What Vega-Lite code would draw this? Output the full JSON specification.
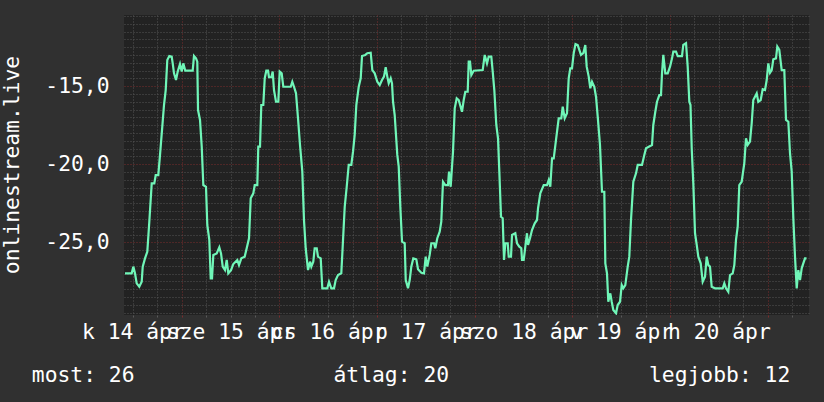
{
"$schema":"https://vega.github.io/schema/vega-lite/v6.json",
"width":685,"height":300,"autosize":"none",
"padding":{"left":124,"top":15,"right":15,"bottom":87},
"background":"#303030",
"view":{"fill":"#222222","stroke":null},
"config":{"font":"DejaVu Sans Mono"},
"resolve":{"axis":{"x":"independent"}},
"data":{"values":[
{"t":10.07,"v":-26.99},{"t":11.71,"v":-26.99},{"t":12.11,"v":-26.56},{"t":12.52,"v":-26.99},{"t":12.94,"v":-27.63},{"t":13.58,"v":-27.85},{"t":14.17,"v":-27.53},{"t":14.42,"v":-26.56},{"t":14.98,"v":-26.03},{"t":15.55,"v":-25.6},{"t":16.04,"v":-23.68},{"t":16.63,"v":-21.22},{"t":17.27,"v":-21.22},{"t":17.61,"v":-20.69},{"t":18.25,"v":-20.69},{"t":18.67,"v":-19.4},{"t":19.23,"v":-17.59},{"t":19.65,"v":-16.2},{"t":20.07,"v":-15.24},{"t":20.46,"v":-13.31},{"t":20.95,"v":-13.06},{"t":21.54,"v":-13.1},{"t":21.79,"v":-13.53},{"t":22.11,"v":-14.17},{"t":22.6,"v":-14.6},{"t":23.02,"v":-14.06},{"t":23.58,"v":-13.57},{"t":24.0,"v":-14.06},{"t":24.39,"v":-13.53},{"t":24.88,"v":-14.0},{"t":26.7,"v":-14.0},{"t":27.02,"v":-13.06},{"t":27.51,"v":-13.21},{"t":27.83,"v":-13.42},{"t":28.01,"v":-16.52},{"t":28.5,"v":-17.16},{"t":28.92,"v":-18.87},{"t":29.31,"v":-21.33},{"t":29.97,"v":-21.44},{"t":30.29,"v":-23.89},{"t":30.78,"v":-24.85},{"t":31.13,"v":-27.31},{"t":31.45,"v":-27.31},{"t":31.77,"v":-25.81},{"t":32.6,"v":-25.71},{"t":33.24,"v":-25.32},{"t":33.66,"v":-25.71},{"t":34.08,"v":-26.56},{"t":34.64,"v":-26.78},{"t":35.06,"v":-26.13},{"t":35.45,"v":-26.99},{"t":36.12,"v":-26.78},{"t":36.68,"v":-26.39},{"t":37.66,"v":-26.13},{"t":38.08,"v":-26.46},{"t":38.65,"v":-26.03},{"t":39.48,"v":-25.92},{"t":39.97,"v":-25.38},{"t":40.54,"v":-24.74},{"t":40.96,"v":-22.18},{"t":41.6,"v":-21.86},{"t":41.94,"v":-21.33},{"t":42.58,"v":-21.33},{"t":42.82,"v":-18.87},{"t":43.24,"v":-18.87},{"t":43.56,"v":-16.2},{"t":44.05,"v":-16.2},{"t":44.4,"v":-14.49},{"t":44.79,"v":-14.0},{"t":45.21,"v":-14.0},{"t":45.45,"v":-14.42},{"t":46.02,"v":-14.42},{"t":46.36,"v":-14.06},{"t":46.68,"v":-15.24},{"t":47.17,"v":-15.99},{"t":47.74,"v":-15.99},{"t":48.08,"v":-14.06},{"t":48.57,"v":-14.17},{"t":48.97,"v":-15.03},{"t":50.79,"v":-15.03},{"t":51.18,"v":-14.71},{"t":51.6,"v":-15.03},{"t":52.09,"v":-15.45},{"t":52.58,"v":-17.05},{"t":53.07,"v":-18.76},{"t":53.64,"v":-20.47},{"t":54.05,"v":-23.57},{"t":54.47,"v":-25.38},{"t":55.04,"v":-26.78},{"t":55.53,"v":-26.24},{"t":55.85,"v":-26.56},{"t":56.34,"v":-26.24},{"t":56.68,"v":-25.38},{"t":57.18,"v":-25.38},{"t":57.49,"v":-25.92},{"t":58.16,"v":-26.03},{"t":58.55,"v":-27.95},{"t":59.78,"v":-27.95},{"t":60.2,"v":-27.53},{"t":60.76,"v":-27.95},{"t":61.43,"v":-27.95},{"t":61.84,"v":-27.42},{"t":62.41,"v":-27.1},{"t":63.22,"v":-26.99},{"t":63.56,"v":-25.28},{"t":64.06,"v":-22.72},{"t":64.55,"v":-21.44},{"t":65.04,"v":-20.04},{"t":65.68,"v":-20.04},{"t":66.1,"v":-19.19},{"t":66.51,"v":-18.12},{"t":66.91,"v":-16.2},{"t":67.5,"v":-15.03},{"t":67.99,"v":-14.49},{"t":68.31,"v":-13.06},{"t":69.12,"v":-12.99},{"t":69.61,"v":-12.88},{"t":70.44,"v":-12.85},{"t":70.84,"v":-13.96},{"t":71.43,"v":-14.17},{"t":72.07,"v":-14.71},{"t":72.66,"v":-14.92},{"t":73.22,"v":-14.6},{"t":73.71,"v":-14.38},{"t":74.13,"v":-13.78},{"t":74.52,"v":-14.38},{"t":74.87,"v":-14.81},{"t":75.36,"v":-14.49},{"t":75.68,"v":-14.81},{"t":75.93,"v":-15.99},{"t":76.34,"v":-16.84},{"t":76.98,"v":-19.4},{"t":77.33,"v":-20.15},{"t":77.72,"v":-22.72},{"t":78.14,"v":-24.96},{"t":78.8,"v":-25.06},{"t":79.05,"v":-27.42},{"t":79.61,"v":-27.95},{"t":80.03,"v":-27.42},{"t":80.42,"v":-26.56},{"t":80.91,"v":-26.03},{"t":81.65,"v":-26.09},{"t":82.07,"v":-26.73},{"t":82.88,"v":-26.95},{"t":83.54,"v":-26.99},{"t":83.96,"v":-25.92},{"t":84.35,"v":-26.56},{"t":84.94,"v":-25.81},{"t":85.34,"v":-25.06},{"t":86.0,"v":-25.06},{"t":86.32,"v":-25.38},{"t":86.81,"v":-24.74},{"t":87.4,"v":-24.32},{"t":87.79,"v":-23.68},{"t":88.21,"v":-21.12},{"t":88.78,"v":-21.33},{"t":89.44,"v":-21.33},{"t":89.69,"v":-20.47},{"t":90.1,"v":-21.44},{"t":90.67,"v":-19.19},{"t":91.09,"v":-16.41},{"t":91.58,"v":-15.77},{"t":92.07,"v":-15.88},{"t":92.88,"v":-16.63},{"t":93.3,"v":-15.88},{"t":93.69,"v":-15.35},{"t":94.28,"v":-15.35},{"t":94.53,"v":-13.42},{"t":94.85,"v":-13.42},{"t":95.17,"v":-14.28},{"t":95.76,"v":-14.0},{"t":97.97,"v":-13.96},{"t":98.46,"v":-12.99},{"t":99.02,"v":-13.53},{"t":99.44,"v":-13.1},{"t":100.08,"v":-13.1},{"t":100.43,"v":-14.06},{"t":100.82,"v":-15.24},{"t":101.31,"v":-17.48},{"t":101.73,"v":-18.33},{"t":102.05,"v":-20.47},{"t":102.47,"v":-23.36},{"t":102.88,"v":-23.46},{"t":103.2,"v":-26.13},{"t":103.52,"v":-25.06},{"t":104.11,"v":-25.06},{"t":104.36,"v":-25.92},{"t":104.92,"v":-25.92},{"t":105.17,"v":-24.53},{"t":105.98,"v":-24.42},{"t":106.4,"v":-25.06},{"t":106.96,"v":-25.28},{"t":107.45,"v":-25.38},{"t":107.63,"v":-26.13},{"t":108.04,"v":-26.13},{"t":108.44,"v":-25.28},{"t":108.85,"v":-24.42},{"t":109.1,"v":-25.17},{"t":109.59,"v":-24.74},{"t":110.08,"v":-24.21},{"t":110.75,"v":-23.78},{"t":111.31,"v":-23.57},{"t":111.56,"v":-22.82},{"t":112.12,"v":-21.86},{"t":112.96,"v":-21.33},{"t":113.77,"v":-21.33},{"t":114.19,"v":-21.01},{"t":114.58,"v":-21.44},{"t":115.0,"v":-19.62},{"t":115.42,"v":-19.62},{"t":115.98,"v":-18.44},{"t":116.64,"v":-17.05},{"t":117.28,"v":-17.05},{"t":117.63,"v":-16.31},{"t":118.12,"v":-17.05},{"t":118.68,"v":-16.73},{"t":119.1,"v":-14.49},{"t":119.49,"v":-13.85},{"t":119.91,"v":-13.85},{"t":120.33,"v":-12.88},{"t":120.77,"v":-12.29},{"t":121.31,"v":-12.35},{"t":121.71,"v":-12.67},{"t":122.12,"v":-12.99},{"t":122.69,"v":-12.88},{"t":123.18,"v":-12.35},{"t":123.52,"v":-13.74},{"t":124.02,"v":-14.38},{"t":124.41,"v":-15.13},{"t":124.83,"v":-14.71},{"t":125.39,"v":-15.03},{"t":125.81,"v":-15.67},{"t":126.23,"v":-16.95},{"t":126.79,"v":-18.76},{"t":127.28,"v":-21.76},{"t":127.85,"v":-21.76},{"t":128.1,"v":-26.35},{"t":128.51,"v":-26.99},{"t":128.83,"v":-28.81},{"t":129.32,"v":-28.27},{"t":129.67,"v":-28.81},{"t":130.06,"v":-29.34},{"t":130.73,"v":-29.55},{"t":131.14,"v":-29.02},{"t":131.71,"v":-28.81},{"t":132.13,"v":-27.74},{"t":132.52,"v":-27.95},{"t":133.01,"v":-27.74},{"t":133.6,"v":-26.56},{"t":133.99,"v":-25.92},{"t":134.41,"v":-23.57},{"t":134.98,"v":-21.12},{"t":135.64,"v":-20.58},{"t":136.06,"v":-20.04},{"t":137.11,"v":-20.04},{"t":137.68,"v":-19.4},{"t":138.1,"v":-18.97},{"t":139.57,"v":-18.76},{"t":139.89,"v":-17.48},{"t":140.38,"v":-16.63},{"t":140.8,"v":-15.99},{"t":141.37,"v":-15.56},{"t":141.78,"v":-15.56},{"t":142.03,"v":-14.17},{"t":142.35,"v":-12.99},{"t":142.84,"v":-14.17},{"t":143.43,"v":-14.17},{"t":144.0,"v":-13.74},{"t":144.49,"v":-13.21},{"t":144.81,"v":-12.78},{"t":145.47,"v":-12.78},{"t":145.89,"v":-13.06},{"t":146.94,"v":-13.06},{"t":147.26,"v":-12.35},{"t":147.93,"v":-12.24},{"t":148.34,"v":-13.74},{"t":148.74,"v":-15.99},{"t":149.03,"v":-16.2},{"t":149.33,"v":-18.97},{"t":149.72,"v":-21.22},{"t":150.14,"v":-24.42},{"t":150.56,"v":-25.17},{"t":150.95,"v":-25.92},{"t":151.54,"v":-26.35},{"t":152.03,"v":-27.53},{"t":152.6,"v":-27.21},{"t":153.01,"v":-25.92},{"t":153.41,"v":-26.46},{"t":153.82,"v":-26.56},{"t":154.24,"v":-27.85},{"t":155.05,"v":-27.95},{"t":156.95,"v":-27.95},{"t":157.34,"v":-27.63},{"t":157.76,"v":-27.95},{"t":158.32,"v":-28.17},{"t":158.74,"v":-27.1},{"t":159.4,"v":-26.99},{"t":159.8,"v":-26.46},{"t":160.21,"v":-24.85},{"t":160.63,"v":-24.0},{"t":161.02,"v":-21.33},{"t":161.61,"v":-21.12},{"t":162.01,"v":-20.37},{"t":162.25,"v":-19.94},{"t":162.67,"v":-18.33},{"t":163.09,"v":-18.76},{"t":163.65,"v":-18.55},{"t":164.07,"v":-17.37},{"t":164.46,"v":-15.88},{"t":164.88,"v":-15.67},{"t":165.3,"v":-15.45},{"t":165.69,"v":-15.99},{"t":166.28,"v":-15.88},{"t":166.77,"v":-15.19},{"t":167.34,"v":-15.24},{"t":167.76,"v":-14.6},{"t":168.15,"v":-13.53},{"t":168.57,"v":-14.13},{"t":168.99,"v":-13.96},{"t":169.38,"v":-13.27},{"t":170.04,"v":-13.21},{"t":170.36,"v":-12.46},{"t":170.85,"v":-12.67},{"t":171.44,"v":-13.96},{"t":172.08,"v":-13.96},{"t":172.5,"v":-17.16},{"t":173.07,"v":-17.27},{"t":173.48,"v":-19.29},{"t":173.9,"v":-20.47},{"t":174.3,"v":-23.46},{"t":174.71,"v":-25.92},{"t":175.13,"v":-27.95},{"t":175.52,"v":-26.78},{"t":175.94,"v":-27.42},{"t":176.36,"v":-26.67},{"t":176.75,"v":-26.35},{"t":177.17,"v":-26.03},{"t":177.54,"v":-26.03}
]},
"encoding":{
  "y":{"field":"v","type":"quantitative","scale":{"domain":[-29.66,-10.43],"nice":false,"zero":false},
   "axis":{"values":[-29.5,-29,-28.5,-28,-27.5,-27,-26.5,-26,-25.5,-25,-24.5,-24,-23.5,-23,-22.5,-22,-21.5,-21,-20.5,-20,-19.5,-19,-18.5,-18,-17.5,-17,-16.5,-16,-15.5,-15,-14.5,-14,-13.5,-13,-12.5,-12,-11.5,-11,-10.5],
    "labelExpr":"datum.value % 5 === 0 ? datum.value + ',0' : ''",
    "labelOverlap":false,"labelFlush":false,"labelBound":false,"labelFont":"DejaVu Sans Mono","labelFontSize":21.33,"labelColor":"#ffffff","labelPadding":15,
    "domain":false,"ticks":false,"tickSize":0,
    "grid":true,"gridDash":[1,2],"gridWidth":1,
    "gridColor":{"condition":{"test":"datum.value % 5 === 0","value":"#7a2c2c"},"value":"#555555"},
    "title":"onlinestream.live","titleFont":"DejaVu Sans Mono","titleFontSize":21.33,"titleFontWeight":"normal","titleColor":"#ffffff","titleAngle":270,"titleX":-105.5,"titleY":149.5,"titleAlign":"center","titleBaseline":"alphabetic","titleLimit":1000}}
},
"layer":[
{"mark":{"type":"line","color":"#70f6b8","strokeWidth":2.2,"clip":true},
 "encoding":{
  "x":{"field":"t","type":"quantitative","scale":{"domain":[9.82,178.15],"nice":false,"zero":false},
   "axis":{"orient":"bottom","values":[12,18,24,30,36,42,48,54,60,66,72,78,84,90,96,102,108,114,120,126,132,138,144,150,156,162,168,174],
    "labelExpr":"datum.value % 24 === 12 ? ['k 14 ápr','sze 15 ápr','cs 16 ápr','p 17 ápr','szo 18 ápr','v 19 ápr','h 20 ápr'][(datum.value - 12) / 24] : ''",
    "labelOverlap":false,"labelFlush":false,"labelBound":false,"labelFont":"DejaVu Sans Mono","labelFontSize":21.33,"labelColor":"#ffffff","labelBaseline":"alphabetic","labelAlign":"center","labelPadding":21.3,"labelLimit":400,
    "domain":false,"ticks":true,"tickSize":2,
    "tickColor":{"condition":{"test":"datum.value % 24 === 0","value":"#7a2c2c"},"value":"#5a5a5a"},
    "grid":true,"gridDash":[1,2],"gridWidth":1,
    "gridColor":{"condition":{"test":"datum.value % 24 === 0","value":"#7a2c2c"},"value":"#555555"},
    "title":"most: 26",
    "titleFont":"DejaVu Sans Mono","titleFontSize":21.33,"titleFontWeight":"normal","titleColor":"#ffffff","titleX":-92.7,"titleY":66,"titleAlign":"left","titleBaseline":"alphabetic","titleAngle":0,"titleLimit":1000}}}},
{"data":{"values":[{}]},"mark":{"type":"point","shape":"triangle-up","filled":true,"color":"#22dd22","size":30,"opacity":1},
 "encoding":{"x":{"datum":10.02,"type":"quantitative","scale":{"domain":[9.82,178.15],"nice":false,"zero":false},
   "axis":{"orient":"bottom","labels":false,"ticks":false,"grid":false,"domain":false,"title":"átlag: 20","titleFont":"DejaVu Sans Mono","titleFontSize":21.33,"titleFontWeight":"normal","titleColor":"#ffffff","titleX":209,"titleY":66,"titleAlign":"left","titleBaseline":"alphabetic","titleAngle":0,"titleLimit":1000}},
  "y":{"datum":-10.17,"type":"quantitative"}}},
{"data":{"values":[{}]},"mark":{"type":"point","shape":"triangle-right","filled":true,"color":"#22dd22","size":30,"opacity":1},
 "encoding":{"x":{"datum":179.26,"type":"quantitative","scale":{"domain":[9.82,178.15],"nice":false,"zero":false},
   "axis":{"orient":"bottom","labels":false,"ticks":false,"grid":false,"domain":false,"title":"legjobb: 12","titleFont":"DejaVu Sans Mono","titleFontSize":21.33,"titleFontWeight":"normal","titleColor":"#ffffff","titleX":524.5,"titleY":66,"titleAlign":"left","titleBaseline":"alphabetic","titleAngle":0,"titleLimit":1000}},
  "y":{"datum":-29.63,"type":"quantitative"}}}
]
}
